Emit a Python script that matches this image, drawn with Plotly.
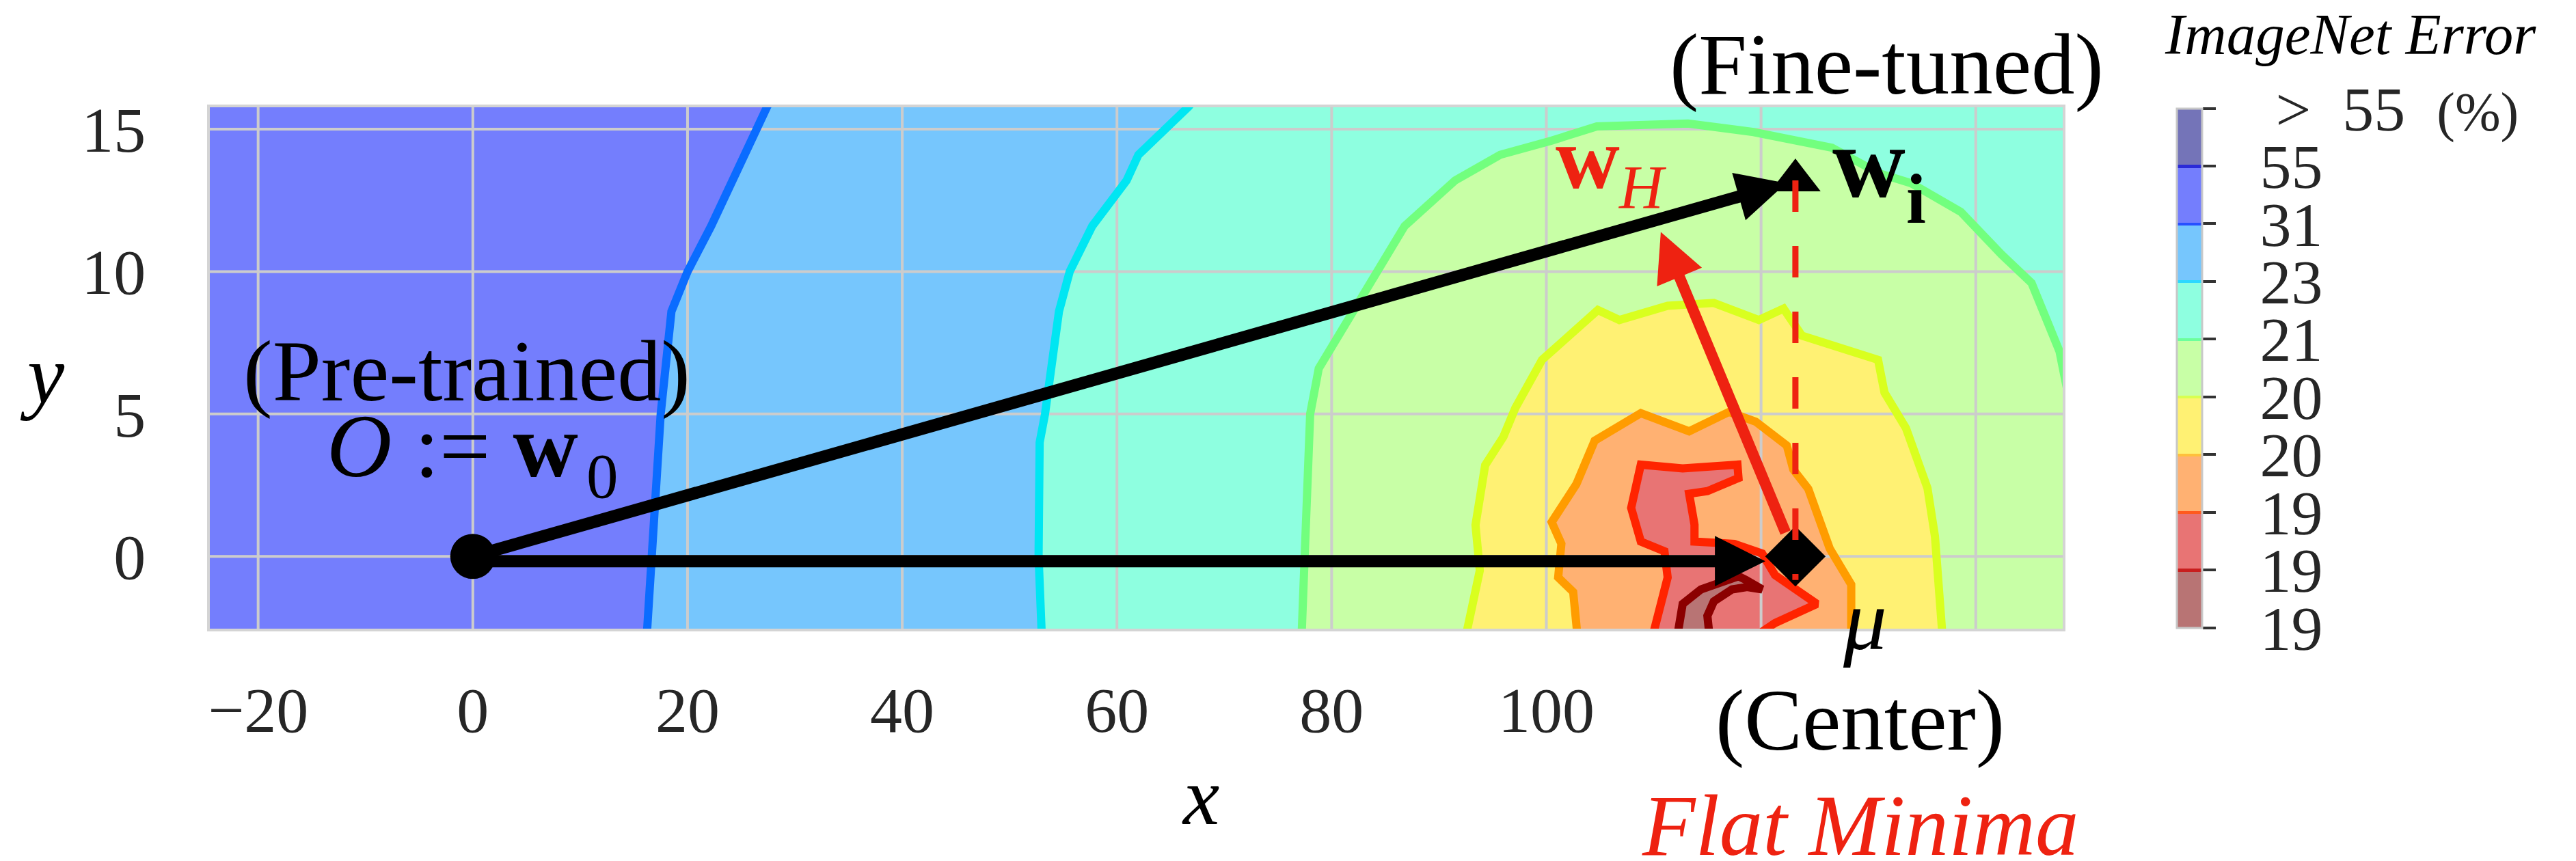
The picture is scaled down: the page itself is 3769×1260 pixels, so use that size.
import plotly.graph_objects as go

# ---------------------------------------------------------------- axes
X_RANGE = [-24.5, 148.1]
Y_RANGE = [-2.54, 15.77]
X_TICKS = [-20, 0, 20, 40, 60, 80, 100, 120, 140]
X_TICK_TEXT = ["\u221220", "0", "20", "40", "60", "80", "100", "", ""]
Y_TICKS = [0, 5, 10, 15]
Y_TICK_TEXT = ["0", "5", "10", "15"]

# ---------------------------------------------------------------- key points
W0 = (0.0, 0.0)        # pre-trained weights (origin)
MU = (123.2, 0.0)      # center of the flat minimum
WI = (123.2, 13.2)     # fine-tuned weights
WH = (110.66, 11.39)   # w_H
PROJ_Y = [13.2, -0.83]  # vertical projection of w_i

# ---------------------------------------------------------------- error contours
# boundary between the 31-55 % and 23-31 % regions
C31_X = [16.2, 16.6, 17.2, 17.5, 18.5, 20.0, 22.2, 24.6, 26.4, 27.8]
C31_Y = [-2.8, 0.0, 4.0, 5.0, 8.6, 10.0, 11.6, 13.6, 15.0, 16.1]
# 23 %
C23_X = [53.0, 52.7, 52.8, 53.3, 54.6, 55.6, 57.7, 60.9, 62.0, 64.6, 66.7, 67.3]
C23_Y = [-2.8, 0.0, 4.0, 5.0, 8.6, 10.0, 11.6, 13.2, 14.1, 15.0, 15.8, 16.1]
# 21 %
C21_X = [77.2, 77.5, 77.8, 78.0, 78.8, 82.0, 84.1, 86.8, 91.5, 95.7, 100.5, 104.7,
         113.2, 119.3, 126.6, 131.0, 134.0, 138.6, 142.4, 145.2, 147.8, 149.5, 150.5]
C21_Y = [-2.8, 0.0, 4.0, 5.0, 6.6, 8.6, 10.0, 11.6, 13.2, 14.1, 14.6, 15.1,
         15.2, 14.9, 14.35, 13.45, 13.1, 12.1, 10.6, 9.6, 7.2, 4.0, -2.8]
# 20 % (outer)
C20A_X = [92.5, 93.8, 93.4, 94.3, 96.0, 97.1, 99.6, 104.8, 106.8, 111.3, 115.6, 119.8,
          122.1, 123.8, 130.9, 131.5, 133.5, 135.5, 136.2, 136.8, 136.9]
C20A_Y = [-2.8, -0.5, 1.1, 3.2, 4.2, 5.2, 6.9, 8.65, 8.3, 8.8, 8.9, 8.3,
          8.7, 7.75, 6.9, 5.75, 4.5, 2.4, 0.7, -1.8, -2.8]
# 20 % (inner)
C20B_X = [102.9, 102.5, 101.1, 101.4, 100.5, 102.8, 104.5, 108.8, 113.3, 117.0, 119.5,
          122.4, 123.0, 124.4, 126.4, 128.4, 128.4]
C20B_Y = [-2.8, -1.25, -0.74, 0.44, 1.2, 2.54, 4.06, 5.03, 4.39, 5.07, 4.73,
          3.89, 3.05, 2.37, 0.27, -0.99, -2.8]
# 19 % (outer)
C19A_X = [109.9, 110.5, 111.3, 111.0, 108.8, 107.9, 108.4, 108.8, 112.7, 117.8, 117.9,
          115.0, 113.3, 113.8, 113.8, 117.5, 120.1, 121.3, 125.2, 121.3, 119.5]
C19A_Y = [-2.8, -1.83, -0.74, 0.18, 0.52, 1.7, 2.7, 3.22, 3.09, 3.22, 2.75,
          2.29, 2.2, 1.11, 0.52, 0.44, 0.1, -0.66, -1.67, -2.34, -2.8]
# 19 % (inner)
C19B_X = [112.2, 112.7, 114.4, 117.9, 118.6, 120.1, 118.7, 117.3, 115.6, 115.0, 115.2]
C19B_Y = [-2.8, -1.67, -1.16, -0.70, -0.83, -1.16, -1.08, -1.16, -1.58, -2.09, -2.8]

X_FAR = 200.0  # closes the open regions far outside the visible range

# ---------------------------------------------------------------- colours
FILL_BASE = "#747efd"
FILL = {"c31": "#76c6fd", "c23": "#8effe0", "c21": "#c8ffa6", "c20a": "#fff173",
        "c20b": "#ffb172", "c19a": "#e87474", "c19b": "#b87474"}
LINE = {"c31": "#0a6cff", "c23": "#00e6f2", "c21": "#72ff7e", "c20a": "#d9ff1f",
        "c20b": "#ff9c00", "c19a": "#ff2400", "c19b": "#8b0000"}
RED = "#ee2211"
GRID = "#cccccc"
FONT = "Liberation Serif"

# colour bar: bands from lowest error (bottom) to highest (top)
SP = "\u00a0"
CB_LABELS = [SP * 2 + t for t in ["19", "19", "19", "20", "20", "21", "23", "31", "55"]]
CB_LABELS.append(SP * 3 + ">" + SP * 2 + "55" + SP * 2
                 + "<span style='font-size:80px'>(%)</span>")
CB_BANDS = ["#b87474", "#e87474", "#ffb172", "#fff173", "#c8ffa6",
            "#8effe0", "#76c6fd", "#747efd", "#7474b8"]
CB_EDGES = ["#c81e1e", "#ff5a1e", "#ffc03c", "#d8ff50", "#6cff9c",
            "#2cd8ff", "#2850ff", "#2a2ad8"]

n_bands = len(CB_BANDS)
eps = 0.0028
colorscale = []
for i, c in enumerate(CB_BANDS):
    lo = i / n_bands + (eps if i > 0 else 0.0)
    hi = (i + 1) / n_bands - (eps if i < n_bands - 1 else 0.0)
    colorscale += [[lo, c], [hi, c]]
    if i < n_bands - 1:
        colorscale += [[hi, CB_EDGES[i]], [(i + 1) / n_bands + eps, CB_EDGES[i]]]
colorscale[-1][0] = 1.0

fig = go.Figure()

# ---------------------------------------------------------------- filled regions
regions = [
    ("c31", C31_X + [X_FAR, X_FAR], C31_Y + [C31_Y[-1], C31_Y[0]]),
    ("c23", C23_X + [X_FAR, X_FAR], C23_Y + [C23_Y[-1], C23_Y[0]]),
    ("c21", C21_X, C21_Y),
    ("c20a", C20A_X, C20A_Y),
    ("c20b", C20B_X, C20B_Y),
    ("c19a", C19A_X, C19A_Y),
    ("c19b", C19B_X, C19B_Y),
]
for key, xs, ys in regions:
    fig.add_trace(go.Scatter(x=xs, y=ys, mode="lines", line=dict(width=0),
                             fill="toself", fillcolor=FILL[key],
                             hoverinfo="skip", showlegend=False))

# ---------------------------------------------------------------- grid
gx, gy = [], []
for v in X_TICKS:
    gx += [v, v, None]
    gy += [Y_RANGE[0], Y_RANGE[1], None]
for v in Y_TICKS:
    gx += [X_RANGE[0], X_RANGE[1], None]
    gy += [v, v, None]
fig.add_trace(go.Scatter(x=gx, y=gy, mode="lines", line=dict(color=GRID, width=4),
                         hoverinfo="skip", showlegend=False))

# ---------------------------------------------------------------- contour lines
curves = [("c31", C31_X, C31_Y), ("c23", C23_X, C23_Y), ("c21", C21_X, C21_Y),
          ("c20a", C20A_X, C20A_Y), ("c20b", C20B_X, C20B_Y),
          ("c19a", C19A_X, C19A_Y), ("c19b", C19B_X, C19B_Y)]
for key, xs, ys in curves:
    fig.add_trace(go.Scatter(x=xs, y=ys, mode="lines",
                             line=dict(color=LINE[key], width=12),
                             hoverinfo="skip", showlegend=False))

# ---------------------------------------------------------------- points
fig.add_trace(go.Scatter(x=[W0[0]], y=[W0[1]], mode="markers",
                         marker=dict(symbol="circle", size=66, color="black"),
                         hoverinfo="skip", showlegend=False))
fig.add_trace(go.Scatter(x=[MU[0]], y=[MU[1]], mode="markers",
                         marker=dict(symbol="diamond", size=68, color="black"),
                         hoverinfo="skip", showlegend=False))
fig.add_trace(go.Scatter(x=[WI[0]], y=[WI[1]], mode="markers",
                         marker=dict(symbol="triangle-up", size=64, color="black"),
                         hoverinfo="skip", showlegend=False))
fig.add_trace(go.Scatter(x=[WI[0], WI[0]], y=PROJ_Y, mode="lines",
                         line=dict(color=RED, width=9, dash="46px,50px"),
                         hoverinfo="skip", showlegend=False))

# colour bar carrier
fig.add_trace(go.Scatter(
    x=[W0[0]], y=[W0[1]], mode="markers", hoverinfo="skip", showlegend=False,
    marker=dict(size=1, opacity=0, color=[0], cmin=0, cmax=n_bands,
                colorscale=colorscale, showscale=True,
                colorbar=dict(
                    tickmode="array", tickvals=list(range(n_bands + 1)),
                    ticktext=CB_LABELS, ticks="outside", ticklen=19, tickwidth=4,
                    tickcolor="#333333",
                    tickfont=dict(family=FONT, size=92, color="#262626"),
                    thickness=37, thicknessmode="pixels",
                    len=760, lenmode="pixels",
                    x=1.0616, xanchor="left", xpad=0,
                    y=0.5, yanchor="middle", ypad=0,
                    outlinewidth=3, outlinecolor="#c8c8c8"))))

# ---------------------------------------------------------------- arrows
def arrow(head, tail, color, width, size, standoff=0, startstandoff=0, yshift=0):
    return dict(x=head[0], y=head[1], ax=tail[0], ay=tail[1],
                xref="x", yref="y", axref="x", ayref="y", text="",
                showarrow=True, arrowhead=2, arrowsize=size, arrowwidth=width,
                arrowcolor=color, standoff=standoff, startstandoff=startstandoff,
                yshift=yshift)

annotations = [
    arrow(MU, W0, "black", 18, 0.82, standoff=44, yshift=-7),
    arrow(WI, W0, "black", 18, 0.8, standoff=14),
    arrow(WH, MU, RED, 16, 0.89, startstandoff=36),
]

# ---------------------------------------------------------------- text
L, R, T, B = 307, 751, 157, 340
FW, FH = 3769, 1260
PW, PH = FW - L - R, FH - T - B


def label(text, cx, cy, size, color="black", **kw):
    return dict(text=text, x=(cx - L) / PW, y=1 - (cy - T) / PH,
                xref="paper", yref="paper", showarrow=False,
                xanchor="center", yanchor="middle",
                font=dict(family=FONT, size=size, color=color), **kw)


annotations += [
    label("(Pre-trained)", 682.5, 543.4, 128),
    label("<i>O</i> := <b>w</b>", 661.5, 652.5, 132),
    label("0", 881, 696.6, 93),
    label("(Fine-tuned)", 2760, 94, 127),
    label("<b>w</b>", 2734, 237.5, 148),
    label("<b>i</b>", 2803, 290, 104),
    label("<b>w</b>", 2323, 231, 130, RED),
    label("<i>H</i>", 2403, 274.6, 90, RED),
    label("(Center)", 2721, 1054, 127),
    label("<i>\u03bc</i>", 2728.5, 907, 127),
    label("<i>Flat Minima</i>", 2721.5, 1208, 127, RED),
    label("<i>ImageNet Error</i>", 3439, 50.3, 85),
    label("<i>y</i>", 62, 548, 122),
    label("<i>x</i>", 1756, 1165.5, 120),
]

axis_common = dict(showgrid=False, zeroline=False, showline=True, mirror=True,
                   linecolor="#d4d4d4", linewidth=4, ticks="",
                   tickfont=dict(family=FONT, size=94, color="#262626"),
                   tickmode="array", fixedrange=True)

fig.update_layout(
    width=FW, height=FH,
    margin=dict(l=L, r=R, t=T, b=B, pad=0),
    paper_bgcolor="white", plot_bgcolor=FILL_BASE,
    showlegend=False,
    xaxis=dict(range=X_RANGE, tickvals=X_TICKS, ticktext=X_TICK_TEXT,
               ticklabelstandoff=34, **axis_common),
    yaxis=dict(range=Y_RANGE, tickvals=Y_TICKS, ticktext=Y_TICK_TEXT,
               ticklabelstandoff=71, **axis_common),
    annotations=annotations,
)

fig.write_html("out.html")
